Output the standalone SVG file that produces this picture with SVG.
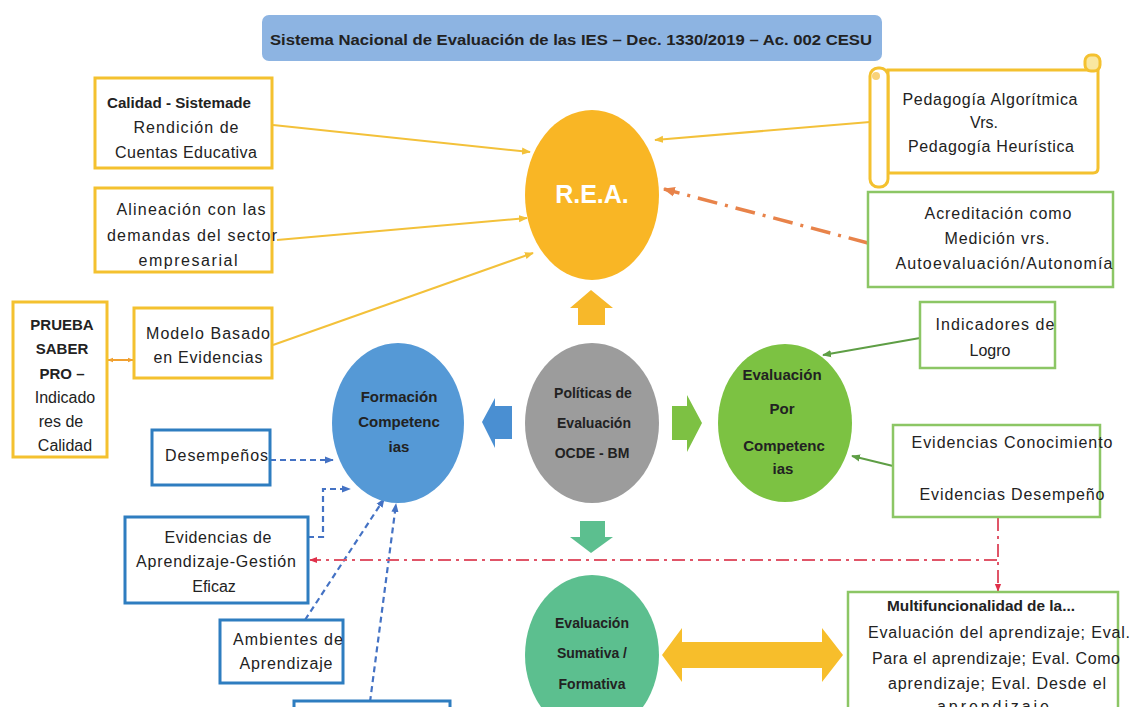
<svg xmlns="http://www.w3.org/2000/svg" width="1132" height="707" viewBox="0 0 1132 707" font-size="16">
<defs>
<style>
text{font-family:"Liberation Sans",Arial,sans-serif;fill:#222;}
.b{font-weight:bold;}
.c{text-anchor:middle;}
.yb{fill:#fff;stroke:#F4C12F;stroke-width:3;}
.bb{fill:#fff;stroke:#2E7DC0;stroke-width:3;}
.gb{fill:#fff;stroke:#8CC665;stroke-width:2.5;}
.yl{stroke:#F3C13A;stroke-width:2;fill:none;}
.gl{stroke:#5E9E45;stroke-width:2;fill:none;}
.bl{stroke:#4472C4;stroke-width:2.2;fill:none;stroke-dasharray:6 4;}
.ol{stroke:#E8834A;stroke-width:3.5;fill:none;stroke-dasharray:20 8 3 8;}
.rl{stroke:#E05568;stroke-width:2;fill:none;stroke-dasharray:13 5 3 5;}
</style>
<marker id="aY" viewBox="0 0 10 10" refX="9" refY="5" markerWidth="9" markerHeight="9" markerUnits="userSpaceOnUse" orient="auto-start-reverse"><path d="M0,1 L10,5 L0,9 z" fill="#F3C13A"/></marker>
<marker id="aG" viewBox="0 0 10 10" refX="9" refY="5" markerWidth="9" markerHeight="9" markerUnits="userSpaceOnUse" orient="auto-start-reverse"><path d="M0,1 L10,5 L0,9 z" fill="#5E9E45"/></marker>
<marker id="aB" viewBox="0 0 10 10" refX="9" refY="5" markerWidth="9" markerHeight="9" markerUnits="userSpaceOnUse" orient="auto-start-reverse"><path d="M0,1 L10,5 L0,9 z" fill="#4472C4"/></marker>
<marker id="aO" viewBox="0 0 10 10" refX="9" refY="5" markerWidth="12" markerHeight="12" markerUnits="userSpaceOnUse" orient="auto-start-reverse"><path d="M0,1 L10,5 L0,9 z" fill="#E8834A"/></marker>
<marker id="aR" viewBox="0 0 10 10" refX="9" refY="5" markerWidth="8" markerHeight="8" markerUnits="userSpaceOnUse" orient="auto-start-reverse"><path d="M0,1 L10,5 L0,9 z" fill="#E0304A"/></marker>
<marker id="aSm" viewBox="0 0 10 10" refX="9" refY="5" markerWidth="6" markerHeight="6" markerUnits="userSpaceOnUse" orient="auto-start-reverse"><path d="M0,1 L10,5 L0,9 z" fill="#F0A030"/></marker>
</defs>
<rect width="1132" height="707" fill="#fff"/>

<g id="title">
<rect x="262" y="15" width="620" height="46" rx="7" fill="#8DB4E2"/>
<text class="b" x="270" y="45" font-size="14" textLength="602" lengthAdjust="spacingAndGlyphs">Sistema Nacional de Evaluación de las IES   – Dec. 1330/2019 – Ac. 002 CESU</text>
</g>

<g id="connectors">
<line class="yl" x1="273" y1="125" x2="530" y2="152" marker-end="url(#aY)"/>
<line class="yl" x1="277" y1="240" x2="527" y2="218" marker-end="url(#aY)"/>
<line class="yl" x1="273" y1="345" x2="533" y2="253" marker-end="url(#aY)"/>
<line class="yl" x1="870" y1="122" x2="655" y2="140" marker-end="url(#aY)"/>
<line class="ol" x1="868" y1="243" x2="664" y2="189" marker-end="url(#aO)"/>
<line x1="108" y1="360" x2="133" y2="360" stroke="#F0A030" stroke-width="2" marker-start="url(#aSm)" marker-end="url(#aSm)"/>
<line class="gl" x1="920" y1="338" x2="823" y2="355" marker-end="url(#aG)"/>
<line class="gl" x1="893" y1="466" x2="852" y2="456" marker-end="url(#aG)"/>
<line class="bl" x1="270" y1="460" x2="333" y2="460" marker-end="url(#aB)"/>
<polyline class="bl" points="308,537 323,537 323,489 350,489" marker-end="url(#aB)"/>
<line class="bl" x1="305" y1="620" x2="384" y2="499" marker-end="url(#aB)"/>
<line class="bl" x1="370" y1="702" x2="396" y2="504" marker-end="url(#aB)"/>
<line class="rl" x1="997" y1="560" x2="310" y2="560" marker-end="url(#aR)"/>
<line class="rl" x1="998" y1="518" x2="998" y2="591" marker-end="url(#aR)"/>
<polygon points="591,290 613,308 605,308 605,325 578,325 578,308 570,308" fill="#F7B82A"/>
<polygon points="482,422 495,398 495,406 512,406 512,439 495,439 495,448" fill="#4A8FD2"/>
<polygon points="702,423 687,395 687,406 672,406 672,440 687,440 687,452" fill="#7DC143"/>
<polygon points="580,521 605,521 605,537 613,537 591,553 570,537 580,537" fill="#5CBF8F"/>
<polygon points="662,655 682,628 682,642 822,642 822,628 843,655 822,682 822,668 682,668 682,682" fill="#F7BE2B"/>
</g>

<g id="rea">
<ellipse cx="592" cy="195" rx="67" ry="85" fill="#F9B625"/>
<text class="b c" x="592" y="203" font-size="25" style="fill:#fff">R.E.A.</text>
</g>

<g id="calidad">
<rect class="yb" x="95" y="78" width="177" height="90"/>
<text class="b" x="107" y="108" font-size="14" textLength="144" lengthAdjust="spacingAndGlyphs">Calidad - Sistemade</text>
<text class="c" x="186" y="133" textLength="105" lengthAdjust="spacing">Rendición de</text>
<text class="c" x="186" y="158" textLength="142" lengthAdjust="spacing">Cuentas Educativa</text>
</g>

<g id="alineacion">
<rect class="yb" x="95" y="188" width="177" height="84"/>
<text class="c" x="191" y="215" textLength="149" lengthAdjust="spacing">Alineación con las</text>
<text class="c" x="192" y="241" textLength="170" lengthAdjust="spacing">demandas del sector</text>
<text class="c" x="188" y="266" textLength="99" lengthAdjust="spacing">empresarial</text>
</g>

<g id="prueba">
<rect class="yb" x="13" y="302" width="94" height="155"/>
<text class="b c" x="62" y="330" font-size="15">PRUEBA</text>
<text class="b c" x="62" y="354" font-size="15">SABER</text>
<text class="b c" x="62" y="379" font-size="15">PRO –</text>
<text class="c" x="65" y="403">Indicado</text>
<text class="c" x="61" y="427">res de</text>
<text class="c" x="65" y="451">Calidad</text>
</g>

<g id="modelo">
<rect class="yb" x="134" y="308" width="138" height="70"/>
<text class="c" x="208" y="339" textLength="124" lengthAdjust="spacing">Modelo Basado</text>
<text class="c" x="208" y="363" textLength="109" lengthAdjust="spacing">en Evidencias</text>
</g>

<g id="desempenos">
<rect class="bb" x="152" y="430" width="118" height="55"/>
<text x="165" y="461" textLength="103" lengthAdjust="spacing">Desempeños</text>
</g>

<g id="evidencias-aprendizaje">
<rect class="bb" x="125" y="517" width="183" height="86"/>
<text class="c" x="218" y="543" textLength="107" lengthAdjust="spacing">Evidencias de</text>
<text class="c" x="216" y="567" textLength="160" lengthAdjust="spacing">Aprendizaje-Gestión</text>
<text class="c" x="214" y="592">Eficaz</text>
</g>

<g id="ambientes">
<rect class="bb" x="220" y="620" width="123" height="63"/>
<text class="c" x="288" y="645" textLength="110" lengthAdjust="spacing">Ambientes de</text>
<text class="c" x="286" y="669" textLength="93" lengthAdjust="spacing">Aprendizaje</text>
</g>

<g id="bottom-box">
<rect class="bb" x="294" y="701" width="156" height="20"/>
</g>

<g id="formacion">
<ellipse cx="398" cy="423" rx="66" ry="80" fill="#5599D6"/>
<text class="b c" x="399" y="402" font-size="15">Formación</text>
<text class="b c" x="399" y="427" font-size="15">Competenc</text>
<text class="b c" x="399" y="452" font-size="15">ias</text>
</g>

<g id="politicas">
<ellipse cx="592" cy="423" rx="67" ry="80" fill="#9C9C9C"/>
<text class="b c" x="593" y="398" font-size="14">Políticas de</text>
<text class="b c" x="594" y="428" font-size="14">Evaluación</text>
<text class="b c" x="592" y="458" font-size="14">OCDE - BM</text>
</g>

<g id="evaluacion-competencias">
<ellipse cx="785" cy="423" rx="67" ry="79" fill="#7CC242"/>
<text class="b c" x="782" y="380" font-size="15">Evaluación</text>
<text class="b c" x="782" y="414" font-size="15">Por</text>
<text class="b c" x="784" y="451" font-size="15">Competenc</text>
<text class="b c" x="783" y="474" font-size="15">ias</text>
</g>

<g id="evaluacion-sumativa">
<ellipse cx="592" cy="655" rx="67" ry="80" fill="#5CBF8F"/>
<text class="b c" x="592" y="628" font-size="14">Evaluación</text>
<text class="b c" x="592" y="658" font-size="14">Sumativa /</text>
<text class="b c" x="592" y="689" font-size="14">Formativa</text>
</g>

<g id="pedagogia">
<path d="M888,70 L1098,70 L1098,168 Q1098,173 1093,173 L888,173 Z" fill="#fff" stroke="#F4C12F" stroke-width="3"/>
<rect x="1085" y="55" width="15" height="16" rx="6" fill="#F9E7A0" stroke="#F4C12F" stroke-width="3"/>
<rect x="870" y="68" width="18" height="119" rx="8" fill="#fff" stroke="#F4C12F" stroke-width="3"/>
<circle cx="876" cy="76" r="4" fill="#F9D27A"/>
<text class="c" x="990" y="105" textLength="175" lengthAdjust="spacing">Pedagogía Algorítmica</text>
<text class="c" x="984" y="128">Vrs.</text>
<text class="c" x="991" y="152" textLength="166" lengthAdjust="spacing">Pedagogía Heurística</text>
</g>

<g id="acreditacion">
<rect class="gb" x="868" y="192" width="245" height="95"/>
<text class="c" x="998" y="219" textLength="147" lengthAdjust="spacing">Acreditación como</text>
<text class="c" x="997" y="244" textLength="105" lengthAdjust="spacing">Medición vrs.</text>
<text class="c" x="1004" y="269" textLength="217" lengthAdjust="spacing">Autoevaluación/Autonomía</text>
</g>

<g id="indicadores">
<rect class="gb" x="920" y="302" width="135" height="66"/>
<text class="c" x="995" y="330" textLength="119" lengthAdjust="spacing">Indicadores de</text>
<text class="c" x="990" y="356">Logro</text>
</g>

<g id="evidencias-conocimiento">
<rect class="gb" x="893" y="425" width="207" height="92"/>
<text class="c" x="1012" y="448" textLength="201" lengthAdjust="spacing">Evidencias Conocimiento</text>
<text class="c" x="1012" y="500" textLength="185" lengthAdjust="spacing">Evidencias Desempeño</text>
</g>

<g id="multifuncionalidad">
<rect class="gb" x="848" y="592" width="270" height="130"/>
<text class="b" x="887" y="611" font-size="14" textLength="188" lengthAdjust="spacingAndGlyphs">Multifuncionalidad de la...</text>
<text class="c" x="999" y="638" textLength="262" lengthAdjust="spacing">Evaluación del aprendizaje; Eval.</text>
<text class="c" x="996" y="664" textLength="248" lengthAdjust="spacing">Para el aprendizaje; Eval. Como</text>
<text class="c" x="997" y="689" textLength="218" lengthAdjust="spacing">aprendizaje; Eval. Desde el</text>
<text class="c" x="993" y="712" textLength="112" lengthAdjust="spacing">aprendizaje</text>
</g>
</svg>
